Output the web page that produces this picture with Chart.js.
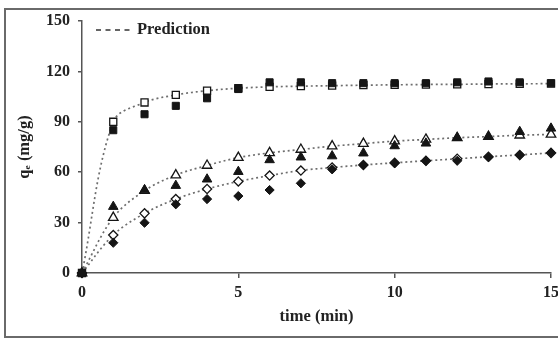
<!DOCTYPE html>
<html><head><meta charset="utf-8">
<script src="https://cdn.jsdelivr.net/npm/chart.js@4/dist/chart.umd.min.js"></script>
<style>html,body{margin:0;padding:0;background:#fff}canvas{display:block}</style>
</head><body>
<canvas id="c" width="558" height="339"></canvas>
<script>
// ---- data ----
const times = [0, 1, 2, 3, 4, 5, 6, 7, 8, 9, 10, 11, 12, 13, 14, 15];
const squaresFilled = [0, 85, 94.5, 99.5, 104, 109.5, 113.5, 113.5, 113, 113, 113, 113, 113.5, 114, 113.5, 113];
const squaresOpen   = [0, 90, 101.5, 106, 108.5, 110, 110.8, 111.2, 111.5, 111.8, 112, 112.2, 112.3, 112.5, 112.6, 112.7];
const trianglesFilled = [0, 39.5, 49.4, 52, 55.8, 60.3, 67.3, 68.9, 69.6, 71.3, 75.6, 77.2, 80.5, 81.1, 84.1, 86.1];
const trianglesOpen   = [0, 33, 49, 58.3, 64, 68.7, 71.5, 73.5, 75.5, 77, 78.5, 79.5, 80.5, 81.2, 82, 82.5];
const diamondsFilled = [0, 18, 29.9, 40.9, 44, 45.8, 49.4, 53.4, 61.7, 64.3, 65.3, 66.7, 66.8, 68.9, 70.2, 71.6];
const diamondsOpen   = [0, 22.6, 35.5, 44, 50, 54.5, 58, 61, 62.8, 64.3, 65.6, 66.8, 68, 69.2, 70.3, 71.5];
const xTicks = [0, 5, 10, 15];
const yTicks = [0, 30, 60, 90, 120, 150];
const xTitle = 'time (min)';
const yTitle = 'qₑ (mg/g)';
const legendLabel = 'Prediction';

const serif = '"Liberation Serif", "Times New Roman", serif';
const pts = arr => times.map((t, i) => ({x: t, y: arr[i]}));

const framePlugin = {
  id: 'frame',
  beforeDraw(chart) {
    const ctx = chart.ctx;
    ctx.save();
    ctx.fillStyle = '#fff';
    ctx.fillRect(0, 0, chart.width, chart.height);
    ctx.strokeStyle = '#6a6a6a';
    ctx.lineWidth = 2;
    ctx.strokeRect(5, 9, 570, 328);
    ctx.restore();
  }
};
const legendPlugin = {
  id: 'predLegend',
  afterDraw(chart) {
    const ctx = chart.ctx, a = chart.chartArea;
    ctx.save();
    ctx.strokeStyle = '#333';
    ctx.lineWidth = 1.6;
    ctx.setLineDash([5, 4.5]);
    ctx.beginPath();
    ctx.moveTo(a.left + 14, a.top + 9);
    ctx.lineTo(a.left + 52, a.top + 9);
    ctx.stroke();
    ctx.setLineDash([]);
    ctx.fillStyle = '#222';
    ctx.font = 'bold 16.5px ' + serif;
    ctx.textBaseline = 'middle';
    ctx.fillText(legendLabel, a.left + 55, a.top + 9);
    ctx.restore();
  }
};

const filled = (data, style, r) => ({
  data: pts(data), showLine: false, pointStyle: style, pointRadius: r,
  pointBackgroundColor: '#151515', pointBorderColor: '#151515', pointBorderWidth: 1, clip: false
});
const open = (data, style, r) => ({
  data: pts(data), showLine: true, tension: 0.35, borderColor: '#6e6e6e', borderWidth: 1.7,
  borderDash: [2, 3], pointStyle: style, pointRadius: r,
  pointBackgroundColor: '#fff', pointBorderColor: '#151515', pointBorderWidth: 1.3, clip: false
});

new Chart(document.getElementById('c'), {
  type: 'line',
  data: {
    datasets: [
      filled(squaresFilled, 'rect', 5),
      filled(trianglesFilled, 'triangle', 5.5),
      filled(diamondsFilled, 'rectRot', 4.6),
      open(squaresOpen, 'rect', 5),
      open(trianglesOpen, 'triangle', 5.5),
      open(diamondsOpen, 'rectRot', 4.6)
    ]
  },
  options: {
    responsive: false,
    devicePixelRatio: 1,
    animation: false,
    layout: {padding: {left: 0, top: 21, right: 7, bottom: 0}},
    plugins: {legend: {display: false}, tooltip: {enabled: false}},
    scales: {
      x: {
        type: 'linear', min: 0, max: 15,
        afterBuildTicks: s => { s.ticks = xTicks.map(v => ({value: v})); },
        ticks: {font: {family: serif, size: 16, weight: 'bold'}, color: '#222', padding: 5, maxRotation: 0},
        grid: {drawOnChartArea: false, drawTicks: true, tickLength: 5, color: '#555', lineWidth: 1.5},
        border: {display: true, color: '#555', width: 1.5},
        title: {display: true, text: xTitle, font: {family: serif, size: 16.5, weight: 'bold'}, color: '#222', padding: {top: 0, bottom: 12}},
        afterFit: s => { s.height = 66; s.paddingLeft = 0; s.paddingRight = 0; }
      },
      y: {
        type: 'linear', min: 0, max: 150,
        afterBuildTicks: s => { s.ticks = yTicks.map(v => ({value: v})); },
        ticks: {font: {family: serif, size: 16, weight: 'bold'}, color: '#222', padding: 8},
        grid: {drawOnChartArea: false, drawTicks: true, tickLength: 4, color: '#555', lineWidth: 1.5},
        border: {display: true, color: '#555', width: 1.5},
        title: {display: true, text: yTitle, font: {family: serif, size: 16.5, weight: 'bold'}, color: '#222', padding: {top: 15, bottom: 0}},
        afterFit: s => { s.width = 82; s.paddingTop = 0; s.paddingBottom = 0; }
      }
    }
  },
  plugins: [framePlugin, legendPlugin]
});
</script>
</body></html>
